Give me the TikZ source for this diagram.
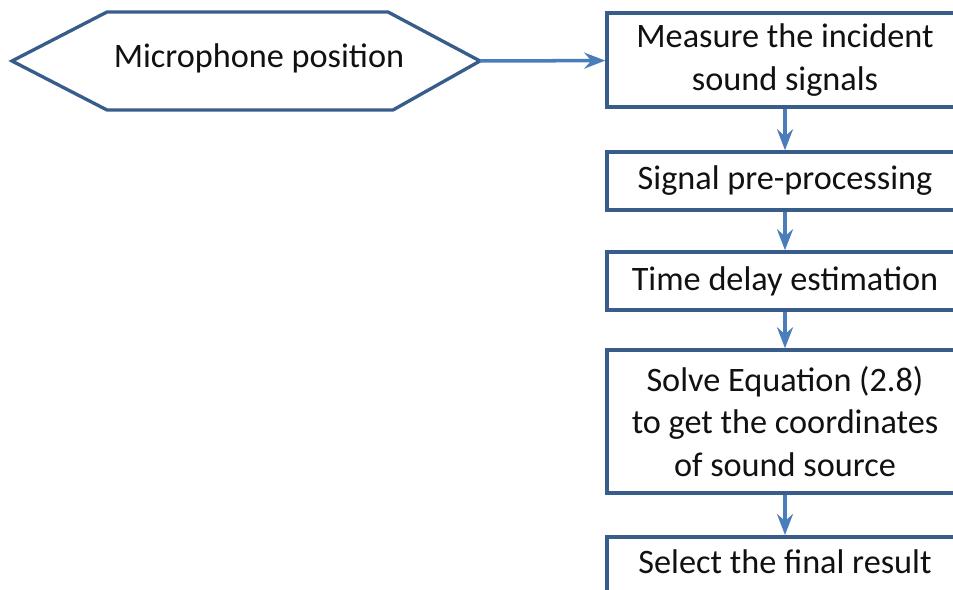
\documentclass[tikz,border=0pt]{standalone}
\usepackage{fontspec}
\setmainfont{Carlito}
\usetikzlibrary{arrows.meta, positioning}

\definecolor{edgeBlue}{HTML}{385D8A}
\definecolor{arrowBlue}{HTML}{4A7EBB}
\definecolor{inkGrey}{HTML}{111111}

\begin{document}
\begin{tikzpicture}[x=0.02cm, y=-0.02cm,
    stepBox/.style={draw=edgeBlue, line width=2pt, fill=white,
        minimum width=7.12cm, text=inkGrey, align=center,
        font=\fontsize{19.5}{24}\selectfont},
    flowArrow/.style={draw=arrowBlue, line width=2pt,
        -{Stealth[length=0.42cm, width=0.32cm, inset=0.14cm]}}]

\useasboundingbox (0,0) rectangle (953,590);
\clip (0,0) rectangle (953,590);
\fill[white] (0,0) rectangle (953,590);

% hexagon input
\coordinate (hexL) at (12,61);
\coordinate (hexR) at (480,61);
\draw[edgeBlue, line width=1.9pt, line join=miter]
    (hexL) -- (107,12) -- (388,12) -- (hexR) -- (393,110) -- (107,110) -- cycle;
\node[text=inkGrey, font=\fontsize{19.5}{24}\selectfont] (micPos) at (259,58) {Microphone position};

% process boxes
\node[stepBox, minimum height=1.88cm] (measure) at (785,60) {Measure the incident\\sound signals};
\node[stepBox, minimum height=1.16cm] (prepro) at (785,181) {Signal pre-processing};
\node[stepBox, minimum height=1.16cm] (delay) at (785,281) {Time delay estimation};
\node[stepBox, minimum height=2.86cm] (solve) at (785,421.5) {Solve Equation (2.8)\\to get the coordinates\\of sound source};
\node[stepBox, minimum height=1.16cm, anchor=north] (select) at (785,535) {};
\node[text=inkGrey, font=\fontsize{19.5}{24}\selectfont] (selectTxt) at (785,562) {Select the final result};

\draw[flowArrow] (hexR) -- (measure);
\foreach \a/\b in {measure/prepro, prepro/delay, delay/solve, solve/select}
    \draw[flowArrow] (\a) -- (\b);

\end{tikzpicture}
\end{document}
